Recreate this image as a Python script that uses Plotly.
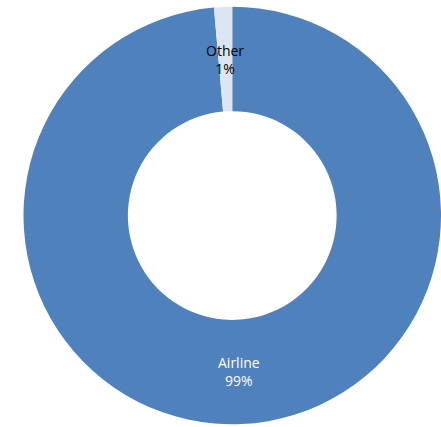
import math
import plotly.graph_objects as go

categories = ["Airline", "Other"]
values = [98.6, 1.4]
label_colors = ["white", "black"]
slice_colors = ["#4F81BD", "#DCE6F2"]

W, H = 441, 427
x0, x1 = 23.5 / W, 1.0
y0, y1 = 2.5 / H, 420.5 / H
hole = 0.5

fig = go.Figure(go.Pie(
    labels=categories, values=values, sort=False, direction="clockwise",
    rotation=0, hole=hole, textinfo="none", hoverinfo="label+percent",
    marker=dict(colors=slice_colors, line=dict(width=0)),
    domain=dict(x=[x0, x1], y=[y0, y1]), showlegend=False,
))

# label positions derived from data (middle of each slice's ring)
cx = (x0 + x1) / 2 * W
cy = (y0 + y1) / 2 * H
R = min((x1 - x0) * W, (y1 - y0) * H) / 2
rm = R * (1 + hole) / 2
total = sum(values)
cum = 0
for cat, v, col in zip(categories, values, label_colors):
    mid = (cum + v / 2) / total * 2 * math.pi
    cum += v
    px = cx + rm * math.sin(mid)
    py = cy + rm * math.cos(mid)
    pct = round(v / total * 100)
    fig.add_annotation(x=px / W, y=py / H, xref="paper", yref="paper",
                       xanchor="center", yanchor="middle",
                       text=f"{cat}<br>{pct}%", showarrow=False,
                       font=dict(family="Open Sans, Liberation Sans, sans-serif", size=14, color=col),
                       align="center")

fig.update_layout(width=W, height=H, margin=dict(l=0, r=0, t=0, b=0),
                  paper_bgcolor="white", plot_bgcolor="white")
fig.write_html("out.html", config={"displayModeBar": False},
               post_script="document.body.style.margin='0';document.body.style.overflow='hidden';")
